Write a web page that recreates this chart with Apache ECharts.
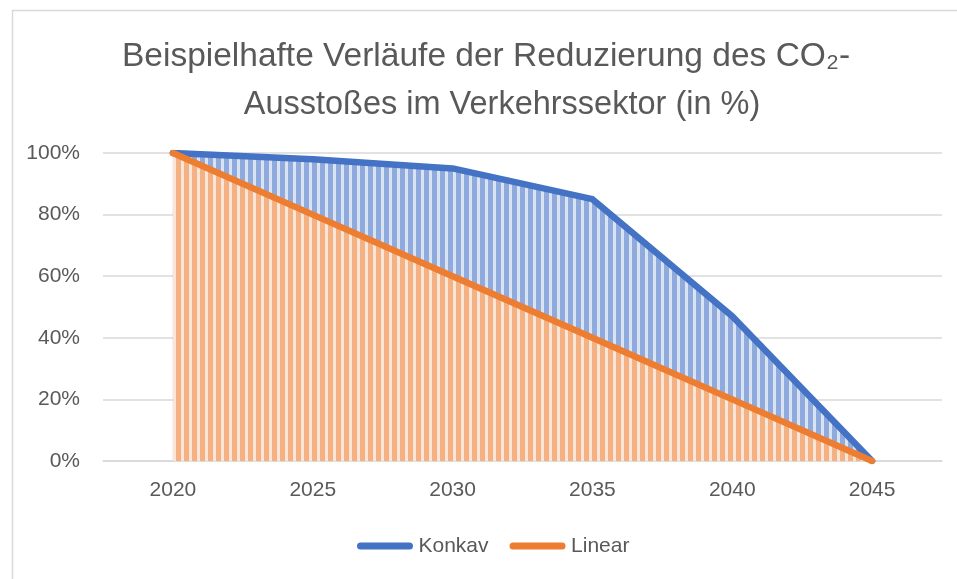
<!DOCTYPE html>
<html>
<head>
<meta charset="utf-8">
<script src="https://cdn.jsdelivr.net/npm/echarts@6/dist/echarts.min.js"></script>
<style>
html,body{margin:0;padding:0;background:#fff;}
#main{width:957px;height:579px;}
</style>
</head>
<body>
<div id="main"></div>
<script>
const categories = ['2020', '2025', '2030', '2035', '2040', '2045'];
const konkav = [100, 98, 95, 85, 47, 0];
const linear = [100, 80, 60, 40, 20, 0];
const yTicks = [0, 20, 40, 60, 80, 100];
const seriesNames = ['Konkav', 'Linear'];
const titleLine1 = 'Beispielhafte Verläufe der Reduzierung des CO₂-';
const titleLine2 = 'Ausstoßes im Verkehrssektor (in %)';

function stripe(dark, light) {
  const c = document.createElement('canvas');
  c.width = 8; c.height = 8;
  const ctx = c.getContext('2d');
  ctx.fillStyle = light; ctx.fillRect(0, 0, 8, 8);
  ctx.fillStyle = dark; ctx.fillRect(0, 0, 5, 8);
  return c;
}
const bluePattern = { image: stripe('#8FAADC', '#DAE3F3'), repeat: 'repeat' };
const orangePattern = { image: stripe('#F4B183', '#FBE5D6'), repeat: 'repeat' };

const FONT = '"Liberation Sans", Arial, sans-serif';
const capsule = 'path://M4,0 L53,0 A3.5,3.5 0 0 1 53,7 L4,7 A3.5,3.5 0 0 1 4,0 Z';

const chart = echarts.init(document.getElementById('main'), null, { renderer: 'canvas' });
chart.setOption({
  animation: false,
  backgroundColor: '#ffffff',
  graphic: [{
    type: 'rect', left: 10, top: 8, silent: true,
    shape: { width: 1000, height: 600 },
    style: { fill: 'none', stroke: '#D9D9D9', lineWidth: 1.5 }
  }],
  title: [
    { text: titleLine1, left: 481, top: 33, textAlign: 'center',
      textStyle: { fontFamily: FONT, fontSize: 33.5, fontWeight: 'normal', color: '#595959', lineHeight: 38 } },
    { text: titleLine2, left: 497, top: 81, textAlign: 'center',
      textStyle: { fontFamily: FONT, fontSize: 32.5, fontWeight: 'normal', color: '#595959', lineHeight: 38 } }
  ],
  legend: {
    data: seriesNames,
    left: 352, top: 529,
    itemWidth: 57, itemHeight: 7, itemGap: 21,
    icon: capsule,
    textStyle: { fontFamily: FONT, fontSize: 21, color: '#595959', lineHeight: 24 }
  },
  grid: { left: 103, right: 15, top: 153, bottom: 118, containLabel: false },
  xAxis: {
    type: 'category', data: categories, boundaryGap: true,
    axisLine: { show: true, lineStyle: { color: '#D9D9D9', width: 1.5 } },
    axisTick: { show: false },
    axisLabel: { fontFamily: FONT, fontSize: 21, color: '#595959', margin: 19 },
    splitLine: { show: false }
  },
  yAxis: {
    type: 'value', min: 0, max: 100, interval: 20,
    axisLine: { show: false }, axisTick: { show: false },
    axisLabel: { fontFamily: FONT, fontSize: 21, color: '#595959', margin: 23, formatter: '{value}%' },
    splitLine: { lineStyle: { color: '#D9D9D9', width: 1.5 } }
  },
  series: [
    { name: seriesNames[0], type: 'line', data: konkav, color: '#4472C4',
      showSymbol: false, symbol: 'none',
      lineStyle: { color: '#4472C4', width: 6.5, cap: 'round', join: 'round' },
      areaStyle: { color: bluePattern, opacity: 1 } },
    { name: seriesNames[1], type: 'line', data: linear, color: '#ED7D31',
      showSymbol: false, symbol: 'none',
      lineStyle: { color: '#ED7D31', width: 6.5, cap: 'round', join: 'round' },
      areaStyle: { color: orangePattern, opacity: 1 } }
  ]
});
</script>
</body>
</html>
